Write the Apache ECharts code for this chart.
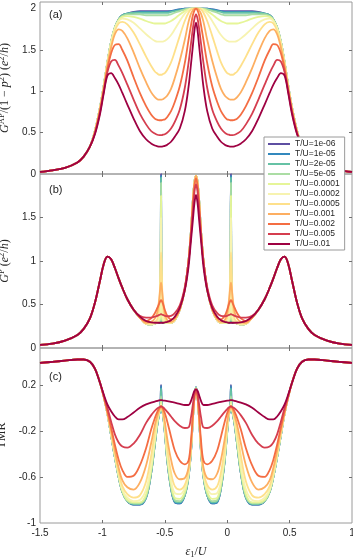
<!DOCTYPE html>
<html>
<head>
<meta charset="utf-8">
<script src="https://cdn.jsdelivr.net/npm/echarts@6/dist/echarts.min.js"></script>
<style>
  html, body { margin: 0; padding: 0; background: #fff; }
  #chart { width: 353px; height: 558px; }
</style>
</head>
<body>
<div id="chart"></div>
<script>
// x grid (eps1/U), dense around the resonances at -0.53, -0.25 and 0.03
const xs = [-1.5,-1.4,-1.3,-1.2,-1.15,-1.1,-1.06,-1.02,-0.99,-0.96,-0.93,-0.9,-0.87,-0.84,-0.8,-0.75,-0.7,-0.65,-0.61,-0.58,-0.56,-0.545,-0.536,-0.53,-0.524,-0.515,-0.5,-0.48,-0.45,-0.42,-0.38,-0.34,-0.31,-0.29,-0.275,-0.262,-0.25,
  -0.238,-0.225,-0.21,-0.19,-0.16,-0.12,-0.08,-0.05,-0.02,0,0.015,0.024,0.03,0.036,0.045,0.06,0.08,0.11,0.15,0.2,0.25,0.3,0.34,0.37,0.4,0.43,0.46,0.49,0.52,0.56,0.6,0.65,0.7,0.8,0.9,1.0];

const names = ['T/U=1e-06','T/U=1e-05','T/U=2e-05','T/U=5e-05','T/U=0.0001','T/U=0.0002','T/U=0.0005','T/U=0.001','T/U=0.002','T/U=0.005','T/U=0.01'];
const lineColors = ['#5e4fa2','#3288bd','#66c2a5','#abdda4','#e6f598','#f7f3b0','#fee08b','#fdae61','#f46d43','#d53e4f','#9e0142'];

const xTicks = [-1, -0.5, 0, 0.5];
const xTickLabels = [-1.5, -1, -0.5, 0, 0.5, 1];
const gTicks = [0.5, 1, 1.5];
const gapLabels = [0, 0.5, 1, 1.5, 2];
const gpLabels = [0, 0.5, 1, 1.5];
const tmrTicks = [-0.6, -0.2, 0.2];
const tmrLabels = [-1, -0.6, -0.2, 0.2];

// panel (a): G^AP/(1-p^2)
const gAP1e6 = [0.025,0.045,0.075,0.14,0.21,0.33,0.52,0.80,1.06,1.35,1.60,1.77,1.87,1.92,1.94,1.96,1.97,1.97,1.97,1.97,1.97,1.97,1.97,1.97,1.97,1.97,1.97,1.97,1.97,1.98,1.99,2.0,2.0,2.0,2.0,2.0,2.0,
  2.0,2.0,2.0,2.0,2.0,1.99,1.98,1.97,1.97,1.97,1.97,1.97,1.97,1.97,1.97,1.97,1.97,1.97,1.97,1.97,1.96,1.94,1.92,1.87,1.77,1.60,1.35,1.06,0.80,0.52,0.33,0.21,0.14,0.075,0.045,0.025];
const gAP1e5 = [0.025,0.045,0.075,0.14,0.21,0.33,0.52,0.80,1.06,1.35,1.60,1.77,1.87,1.92,1.94,1.95,1.96,1.96,1.96,1.96,1.96,1.96,1.96,1.96,1.96,1.96,1.96,1.96,1.97,1.98,1.99,2.0,2.0,2.0,2.0,2.0,2.0,
  2.0,2.0,2.0,2.0,2.0,1.99,1.98,1.97,1.96,1.96,1.96,1.96,1.96,1.96,1.96,1.96,1.96,1.96,1.96,1.96,1.95,1.94,1.92,1.87,1.77,1.60,1.35,1.06,0.80,0.52,0.33,0.21,0.14,0.075,0.045,0.025];
const gAP2e5 = [0.025,0.045,0.075,0.14,0.21,0.33,0.52,0.80,1.06,1.35,1.60,1.77,1.87,1.92,1.94,1.95,1.95,1.95,1.95,1.95,1.95,1.95,1.95,1.95,1.95,1.95,1.95,1.95,1.96,1.97,1.98,1.99,2.0,2.0,2.0,2.0,2.0,
  2.0,2.0,2.0,2.0,1.99,1.98,1.97,1.96,1.95,1.95,1.95,1.95,1.95,1.95,1.95,1.95,1.95,1.95,1.95,1.95,1.95,1.94,1.92,1.87,1.77,1.60,1.35,1.06,0.80,0.52,0.33,0.21,0.14,0.075,0.045,0.025];
const gAP5e5 = [0.025,0.045,0.075,0.14,0.21,0.33,0.52,0.80,1.06,1.35,1.60,1.77,1.87,1.91,1.93,1.93,1.93,1.92,1.92,1.92,1.92,1.92,1.92,1.92,1.92,1.92,1.92,1.92,1.93,1.95,1.97,1.99,2.0,2.0,2.0,2.0,2.0,
  2.0,2.0,2.0,2.0,1.99,1.97,1.95,1.93,1.92,1.92,1.92,1.92,1.92,1.92,1.92,1.92,1.92,1.92,1.92,1.93,1.93,1.93,1.91,1.87,1.77,1.60,1.35,1.06,0.80,0.52,0.33,0.21,0.14,0.075,0.045,0.025];
const gAP1e4 = [0.025,0.045,0.075,0.14,0.21,0.33,0.52,0.80,1.06,1.35,1.60,1.77,1.86,1.90,1.91,1.90,1.88,1.85,1.83,1.82,1.82,1.82,1.82,1.82,1.82,1.82,1.82,1.83,1.85,1.88,1.93,1.97,1.99,2.0,2.0,2.0,2.0,
  2.0,2.0,2.0,1.99,1.97,1.93,1.88,1.85,1.83,1.82,1.82,1.82,1.82,1.82,1.82,1.82,1.82,1.83,1.85,1.88,1.90,1.91,1.90,1.86,1.77,1.60,1.35,1.06,0.80,0.52,0.33,0.21,0.14,0.075,0.045,0.025];
const gAP2e4 = [0.025,0.045,0.075,0.14,0.21,0.33,0.52,0.80,1.06,1.35,1.59,1.76,1.85,1.88,1.87,1.83,1.76,1.69,1.64,1.61,1.60,1.60,1.60,1.60,1.60,1.60,1.61,1.63,1.68,1.75,1.85,1.94,1.98,2.0,2.0,2.0,2.0,
  2.0,2.0,2.0,1.98,1.94,1.85,1.75,1.68,1.63,1.61,1.60,1.60,1.60,1.60,1.60,1.60,1.61,1.64,1.69,1.76,1.83,1.87,1.88,1.85,1.76,1.59,1.35,1.06,0.80,0.52,0.33,0.21,0.14,0.075,0.045,0.025];
const gAP5e4 = [0.025,0.045,0.075,0.14,0.21,0.33,0.52,0.79,1.05,1.33,1.56,1.73,1.82,1.84,1.81,1.71,1.57,1.42,1.31,1.24,1.215,1.20,1.20,1.20,1.20,1.21,1.22,1.26,1.35,1.48,1.67,1.85,1.95,1.99,2.0,2.0,2.0,
  2.0,2.0,1.99,1.95,1.85,1.67,1.48,1.35,1.26,1.22,1.21,1.20,1.20,1.20,1.20,1.215,1.24,1.31,1.42,1.57,1.71,1.81,1.84,1.82,1.73,1.56,1.33,1.05,0.79,0.52,0.33,0.21,0.14,0.075,0.045,0.025];
const gAP1e3 = [0.025,0.045,0.075,0.14,0.21,0.33,0.51,0.78,1.03,1.31,1.53,1.69,1.75,1.73,1.64,1.47,1.28,1.11,0.99,0.93,0.905,0.90,0.90,0.90,0.90,0.905,0.92,0.95,1.03,1.16,1.37,1.62,1.84,1.94,1.98,2.0,2.0,
  2.0,1.98,1.94,1.84,1.62,1.37,1.16,1.03,0.95,0.92,0.905,0.90,0.90,0.90,0.90,0.905,0.93,0.99,1.11,1.28,1.47,1.64,1.73,1.75,1.69,1.53,1.31,1.03,0.78,0.51,0.33,0.21,0.14,0.075,0.045,0.025];
const gAP2e3 = [0.025,0.045,0.075,0.14,0.21,0.33,0.50,0.76,1.01,1.27,1.46,1.56,1.57,1.50,1.37,1.17,0.98,0.82,0.72,0.67,0.655,0.65,0.65,0.65,0.65,0.655,0.66,0.69,0.76,0.87,1.06,1.34,1.62,1.80,1.92,1.98,2.0,
  1.98,1.92,1.80,1.62,1.34,1.06,0.87,0.76,0.69,0.66,0.655,0.65,0.65,0.65,0.65,0.655,0.67,0.72,0.82,0.98,1.17,1.37,1.50,1.57,1.56,1.46,1.27,1.01,0.76,0.50,0.33,0.21,0.14,0.075,0.045,0.025];
const gAP5e3 = [0.025,0.045,0.075,0.14,0.21,0.33,0.49,0.74,0.99,1.23,1.36,1.38,1.31,1.22,1.08,0.90,0.73,0.60,0.52,0.49,0.475,0.47,0.47,0.47,0.47,0.475,0.48,0.50,0.55,0.63,0.78,1.04,1.34,1.58,1.76,1.88,1.93,
  1.88,1.76,1.58,1.34,1.04,0.78,0.63,0.55,0.50,0.48,0.475,0.47,0.47,0.47,0.47,0.475,0.49,0.52,0.60,0.73,0.90,1.08,1.22,1.31,1.38,1.36,1.23,0.99,0.74,0.49,0.33,0.21,0.14,0.075,0.045,0.025];
const gAP1e2 = [0.025,0.045,0.075,0.14,0.21,0.33,0.48,0.72,0.97,1.19,1.22,1.16,1.08,0.98,0.84,0.67,0.52,0.42,0.37,0.345,0.335,0.33,0.33,0.33,0.33,0.335,0.34,0.355,0.39,0.45,0.55,0.76,1.05,1.33,1.55,1.74,1.83,
  1.74,1.55,1.33,1.05,0.76,0.55,0.45,0.39,0.355,0.34,0.335,0.33,0.33,0.33,0.33,0.335,0.345,0.37,0.42,0.52,0.67,0.84,0.98,1.08,1.16,1.22,1.19,0.97,0.72,0.48,0.33,0.21,0.14,0.075,0.045,0.025];

// panel (b): G^P
const gP1e6 = [0.035,0.05,0.085,0.15,0.22,0.34,0.52,0.77,0.96,1.05,1.02,0.92,0.80,0.69,0.56,0.44,0.35,0.28,0.27,0.28,0.29,0.29,0.30,2.0,0.30,0.29,0.29,0.29,0.29,0.32,0.44,0.67,1.0,1.35,1.70,1.91,1.98,
  1.91,1.70,1.35,1.0,0.67,0.44,0.32,0.29,0.29,0.29,0.29,0.30,2.0,0.30,0.29,0.29,0.28,0.27,0.28,0.35,0.44,0.56,0.69,0.80,0.92,1.02,1.05,0.96,0.77,0.52,0.34,0.22,0.15,0.085,0.05,0.035];
const gP1e5 = [0.035,0.05,0.085,0.15,0.22,0.34,0.52,0.77,0.96,1.05,1.02,0.92,0.80,0.69,0.56,0.44,0.35,0.28,0.27,0.28,0.29,0.29,0.30,1.98,0.30,0.29,0.29,0.29,0.29,0.32,0.44,0.67,1.0,1.35,1.70,1.91,1.98,
  1.91,1.70,1.35,1.0,0.67,0.44,0.32,0.29,0.29,0.29,0.29,0.30,1.98,0.30,0.29,0.29,0.28,0.27,0.28,0.35,0.44,0.56,0.69,0.80,0.92,1.02,1.05,0.96,0.77,0.52,0.34,0.22,0.15,0.085,0.05,0.035];
const gP2e5 = [0.035,0.05,0.085,0.15,0.22,0.34,0.52,0.77,0.96,1.05,1.02,0.92,0.80,0.69,0.56,0.44,0.35,0.28,0.27,0.28,0.29,0.30,0.31,1.96,0.31,0.30,0.29,0.29,0.29,0.32,0.44,0.67,1.0,1.35,1.70,1.91,1.98,
  1.91,1.70,1.35,1.0,0.67,0.44,0.32,0.29,0.29,0.29,0.30,0.31,1.96,0.31,0.30,0.29,0.28,0.27,0.28,0.35,0.44,0.56,0.69,0.80,0.92,1.02,1.05,0.96,0.77,0.52,0.34,0.22,0.15,0.085,0.05,0.035];
const gP5e5 = [0.035,0.05,0.085,0.15,0.22,0.34,0.52,0.77,0.96,1.05,1.02,0.92,0.80,0.69,0.56,0.44,0.35,0.28,0.27,0.28,0.29,0.30,0.33,1.90,0.33,0.30,0.29,0.29,0.29,0.32,0.44,0.67,1.0,1.35,1.70,1.91,1.98,
  1.91,1.70,1.35,1.0,0.67,0.44,0.32,0.29,0.29,0.29,0.30,0.33,1.90,0.33,0.30,0.29,0.28,0.27,0.28,0.35,0.44,0.56,0.69,0.80,0.92,1.02,1.05,0.96,0.77,0.52,0.34,0.22,0.15,0.085,0.05,0.035];
const gP1e4 = [0.035,0.05,0.085,0.15,0.22,0.34,0.52,0.77,0.96,1.05,1.02,0.92,0.80,0.69,0.56,0.44,0.35,0.28,0.27,0.28,0.29,0.31,0.38,1.75,0.38,0.31,0.29,0.29,0.29,0.32,0.44,0.67,1.0,1.35,1.70,1.91,1.98,
  1.91,1.70,1.35,1.0,0.67,0.44,0.32,0.29,0.29,0.29,0.31,0.38,1.75,0.38,0.31,0.29,0.28,0.27,0.28,0.35,0.44,0.56,0.69,0.80,0.92,1.02,1.05,0.96,0.77,0.52,0.34,0.22,0.15,0.085,0.05,0.035];
const gP2e4 = [0.035,0.05,0.085,0.15,0.22,0.34,0.52,0.77,0.96,1.05,1.02,0.92,0.80,0.69,0.56,0.44,0.35,0.28,0.27,0.28,0.30,0.34,0.55,1.50,0.55,0.34,0.30,0.29,0.29,0.32,0.44,0.67,1.0,1.35,1.70,1.91,1.98,
  1.91,1.70,1.35,1.0,0.67,0.44,0.32,0.29,0.29,0.30,0.34,0.55,1.50,0.55,0.34,0.30,0.28,0.27,0.28,0.35,0.44,0.56,0.69,0.80,0.92,1.02,1.05,0.96,0.77,0.52,0.34,0.22,0.15,0.085,0.05,0.035];
const gP5e4 = [0.035,0.05,0.085,0.15,0.22,0.34,0.52,0.77,0.96,1.05,1.02,0.92,0.80,0.69,0.56,0.44,0.35,0.28,0.28,0.30,0.33,0.48,0.85,1.10,0.85,0.48,0.34,0.30,0.29,0.32,0.44,0.67,1.0,1.35,1.70,1.91,1.98,
  1.91,1.70,1.35,1.0,0.67,0.44,0.32,0.29,0.30,0.34,0.48,0.85,1.10,0.85,0.48,0.33,0.30,0.28,0.28,0.35,0.44,0.56,0.69,0.80,0.92,1.02,1.05,0.96,0.77,0.52,0.34,0.22,0.15,0.085,0.05,0.035];
const gP1e3 = [0.035,0.05,0.085,0.15,0.22,0.34,0.52,0.77,0.96,1.05,1.02,0.92,0.80,0.69,0.56,0.44,0.35,0.29,0.30,0.34,0.41,0.56,0.69,0.75,0.69,0.56,0.40,0.32,0.30,0.33,0.44,0.67,1.0,1.34,1.68,1.90,1.98,
  1.90,1.68,1.34,1.0,0.67,0.44,0.33,0.30,0.32,0.40,0.56,0.69,0.75,0.69,0.56,0.41,0.34,0.30,0.29,0.35,0.44,0.56,0.69,0.80,0.92,1.02,1.05,0.96,0.77,0.52,0.34,0.22,0.15,0.085,0.05,0.035];
const gP2e3 = [0.035,0.05,0.085,0.15,0.22,0.34,0.52,0.77,0.96,1.05,1.02,0.92,0.80,0.69,0.56,0.44,0.35,0.31,0.34,0.40,0.46,0.51,0.54,0.55,0.54,0.51,0.44,0.37,0.33,0.35,0.45,0.68,1.0,1.33,1.65,1.87,1.95,
  1.87,1.65,1.33,1.0,0.68,0.45,0.35,0.33,0.37,0.44,0.51,0.54,0.55,0.54,0.51,0.46,0.40,0.34,0.31,0.35,0.44,0.56,0.69,0.80,0.92,1.02,1.05,0.96,0.77,0.52,0.34,0.22,0.15,0.085,0.05,0.035];
const gP5e3 = [0.035,0.05,0.085,0.15,0.22,0.34,0.52,0.77,0.96,1.05,1.02,0.92,0.80,0.69,0.56,0.44,0.37,0.35,0.35,0.36,0.37,0.38,0.385,0.39,0.385,0.38,0.37,0.365,0.37,0.40,0.49,0.70,0.99,1.30,1.58,1.80,1.88,
  1.80,1.58,1.30,0.99,0.70,0.49,0.40,0.37,0.365,0.37,0.38,0.385,0.39,0.385,0.38,0.37,0.36,0.35,0.35,0.37,0.44,0.56,0.69,0.80,0.92,1.02,1.05,0.96,0.77,0.52,0.34,0.22,0.15,0.085,0.05,0.035];
const gP1e2 = [0.035,0.05,0.085,0.15,0.22,0.34,0.52,0.77,0.96,1.05,1.02,0.92,0.80,0.69,0.56,0.44,0.36,0.31,0.295,0.29,0.29,0.29,0.29,0.29,0.29,0.29,0.295,0.30,0.32,0.36,0.46,0.66,0.93,1.24,1.47,1.67,1.76,
  1.67,1.47,1.24,0.93,0.66,0.46,0.36,0.32,0.30,0.295,0.29,0.29,0.29,0.29,0.29,0.29,0.29,0.295,0.31,0.36,0.44,0.56,0.69,0.80,0.92,1.02,1.05,0.96,0.77,0.52,0.34,0.22,0.15,0.085,0.05,0.035];

// panel (c): TMR
const tmr1e6 = [0.39,0.40,0.41,0.42,0.42,0.40,0.34,0.22,0.10,-0.05,-0.24,-0.43,-0.60,-0.73,-0.81,-0.84,-0.84,-0.78,-0.57,-0.32,-0.15,-0.055,-0.015,0.20,-0.015,-0.055,-0.21,-0.46,-0.70,-0.82,-0.83,-0.76,-0.60,-0.38,-0.10,0.10,0.18,
  0.10,-0.10,-0.38,-0.60,-0.76,-0.83,-0.82,-0.70,-0.46,-0.21,-0.055,-0.015,0.20,-0.015,-0.055,-0.15,-0.32,-0.57,-0.78,-0.84,-0.84,-0.81,-0.73,-0.60,-0.43,-0.24,-0.05,0.10,0.22,0.34,0.40,0.42,0.42,0.41,0.40,0.39];
const tmr1e5 = [0.39,0.40,0.41,0.42,0.42,0.40,0.34,0.22,0.10,-0.05,-0.24,-0.43,-0.60,-0.73,-0.81,-0.84,-0.84,-0.78,-0.57,-0.32,-0.15,-0.055,-0.015,0.19,-0.015,-0.055,-0.21,-0.46,-0.70,-0.82,-0.83,-0.76,-0.60,-0.38,-0.10,0.10,0.18,
  0.10,-0.10,-0.38,-0.60,-0.76,-0.83,-0.82,-0.70,-0.46,-0.21,-0.055,-0.015,0.19,-0.015,-0.055,-0.15,-0.32,-0.57,-0.78,-0.84,-0.84,-0.81,-0.73,-0.60,-0.43,-0.24,-0.05,0.10,0.22,0.34,0.40,0.42,0.42,0.41,0.40,0.39];
const tmr2e5 = [0.39,0.40,0.41,0.42,0.42,0.40,0.34,0.22,0.10,-0.05,-0.24,-0.43,-0.60,-0.73,-0.81,-0.835,-0.835,-0.78,-0.57,-0.32,-0.15,-0.055,-0.015,0.17,-0.015,-0.055,-0.21,-0.46,-0.70,-0.81,-0.82,-0.76,-0.60,-0.38,-0.10,0.10,0.18,
  0.10,-0.10,-0.38,-0.60,-0.76,-0.82,-0.81,-0.70,-0.46,-0.21,-0.055,-0.015,0.17,-0.015,-0.055,-0.15,-0.32,-0.57,-0.78,-0.835,-0.835,-0.81,-0.73,-0.60,-0.43,-0.24,-0.05,0.10,0.22,0.34,0.40,0.42,0.42,0.41,0.40,0.39];
const tmr5e5 = [0.39,0.40,0.41,0.42,0.42,0.40,0.34,0.22,0.10,-0.05,-0.24,-0.43,-0.60,-0.73,-0.81,-0.83,-0.83,-0.77,-0.56,-0.31,-0.14,-0.05,-0.01,0.10,-0.01,-0.05,-0.20,-0.45,-0.69,-0.80,-0.81,-0.75,-0.59,-0.37,-0.10,0.10,0.17,
  0.10,-0.10,-0.37,-0.59,-0.75,-0.81,-0.80,-0.69,-0.45,-0.20,-0.05,-0.01,0.10,-0.01,-0.05,-0.14,-0.31,-0.56,-0.77,-0.83,-0.83,-0.81,-0.73,-0.60,-0.43,-0.24,-0.05,0.10,0.22,0.34,0.40,0.42,0.42,0.41,0.40,0.39];
const tmr1e4 = [0.39,0.40,0.41,0.42,0.42,0.40,0.34,0.22,0.10,-0.05,-0.23,-0.42,-0.59,-0.72,-0.80,-0.82,-0.82,-0.75,-0.54,-0.29,-0.13,-0.04,-0.005,0.05,-0.005,-0.04,-0.19,-0.43,-0.66,-0.78,-0.79,-0.73,-0.58,-0.36,-0.09,0.10,0.17,
  0.10,-0.09,-0.36,-0.58,-0.73,-0.79,-0.78,-0.66,-0.43,-0.19,-0.04,-0.005,0.05,-0.005,-0.04,-0.13,-0.29,-0.54,-0.75,-0.82,-0.82,-0.80,-0.72,-0.59,-0.42,-0.23,-0.05,0.10,0.22,0.34,0.40,0.42,0.42,0.41,0.40,0.39];
const tmr2e4 = [0.39,0.40,0.41,0.42,0.42,0.40,0.34,0.22,0.10,-0.05,-0.23,-0.41,-0.58,-0.71,-0.78,-0.81,-0.80,-0.71,-0.50,-0.26,-0.11,-0.035,0.0,0.03,0.0,-0.035,-0.17,-0.40,-0.63,-0.74,-0.75,-0.70,-0.57,-0.35,-0.09,0.10,0.17,
  0.10,-0.09,-0.35,-0.57,-0.70,-0.75,-0.74,-0.63,-0.40,-0.17,-0.035,0.0,0.03,0.0,-0.035,-0.11,-0.26,-0.50,-0.71,-0.80,-0.81,-0.78,-0.71,-0.58,-0.41,-0.23,-0.05,0.10,0.22,0.34,0.40,0.42,0.42,0.41,0.40,0.39];
const tmr5e4 = [0.39,0.40,0.41,0.42,0.42,0.40,0.34,0.22,0.10,-0.05,-0.22,-0.40,-0.56,-0.68,-0.75,-0.78,-0.76,-0.64,-0.42,-0.21,-0.09,-0.03,0.0,0.02,0.0,-0.03,-0.15,-0.35,-0.56,-0.68,-0.71,-0.67,-0.55,-0.34,-0.09,0.10,0.17,
  0.10,-0.09,-0.34,-0.55,-0.67,-0.71,-0.68,-0.56,-0.35,-0.15,-0.03,0.0,0.02,0.0,-0.03,-0.09,-0.21,-0.42,-0.64,-0.76,-0.78,-0.75,-0.68,-0.56,-0.40,-0.22,-0.05,0.10,0.22,0.34,0.40,0.42,0.42,0.41,0.40,0.39];
const tmr1e3 = [0.39,0.40,0.41,0.42,0.42,0.40,0.34,0.22,0.10,-0.04,-0.20,-0.37,-0.52,-0.63,-0.69,-0.71,-0.65,-0.50,-0.31,-0.15,-0.07,-0.02,0.0,0.005,0.0,-0.03,-0.12,-0.27,-0.45,-0.57,-0.62,-0.61,-0.52,-0.33,-0.09,0.09,0.16,
  0.09,-0.09,-0.33,-0.52,-0.61,-0.62,-0.57,-0.45,-0.27,-0.12,-0.03,0.0,0.005,0.0,-0.02,-0.07,-0.15,-0.31,-0.50,-0.65,-0.71,-0.69,-0.63,-0.52,-0.37,-0.20,-0.04,0.10,0.22,0.34,0.40,0.42,0.42,0.41,0.40,0.39];
const tmr2e3 = [0.39,0.40,0.41,0.42,0.42,0.40,0.34,0.22,0.10,-0.03,-0.17,-0.32,-0.45,-0.54,-0.60,-0.59,-0.50,-0.35,-0.19,-0.09,-0.035,-0.005,0.01,0.015,0.01,-0.005,-0.045,-0.12,-0.25,-0.37,-0.46,-0.49,-0.46,-0.28,-0.06,0.10,0.16,
  0.10,-0.06,-0.28,-0.46,-0.49,-0.46,-0.37,-0.25,-0.12,-0.045,-0.005,0.01,0.015,0.01,-0.005,-0.035,-0.09,-0.19,-0.35,-0.50,-0.59,-0.60,-0.54,-0.45,-0.32,-0.17,-0.03,0.10,0.22,0.34,0.40,0.42,0.42,0.41,0.40,0.39];
const tmr5e3 = [0.39,0.40,0.41,0.42,0.42,0.40,0.34,0.22,0.11,0.0,-0.12,-0.23,-0.30,-0.335,-0.345,-0.31,-0.235,-0.13,-0.065,-0.025,-0.005,0.005,0.01,0.012,0.01,0.005,-0.01,-0.035,-0.075,-0.115,-0.155,-0.175,-0.17,-0.08,0.03,0.12,0.16,
  0.12,0.03,-0.08,-0.17,-0.175,-0.155,-0.115,-0.075,-0.035,-0.01,0.005,0.01,0.012,0.01,0.005,-0.005,-0.025,-0.065,-0.13,-0.235,-0.31,-0.345,-0.335,-0.30,-0.23,-0.12,0.0,0.11,0.22,0.34,0.40,0.42,0.42,0.41,0.40,0.39];
const tmr1e2 = [0.39,0.40,0.41,0.42,0.42,0.40,0.34,0.22,0.12,0.03,-0.03,-0.075,-0.10,-0.10,-0.08,-0.04,0.0,0.03,0.045,0.055,0.06,0.065,0.067,0.068,0.067,0.065,0.062,0.058,0.052,0.045,0.035,0.025,0.025,0.06,0.11,0.15,0.16,
  0.15,0.11,0.06,0.025,0.025,0.035,0.045,0.052,0.058,0.062,0.065,0.067,0.068,0.067,0.065,0.06,0.055,0.045,0.03,0.0,-0.04,-0.08,-0.10,-0.10,-0.075,-0.03,0.03,0.12,0.22,0.34,0.40,0.42,0.42,0.41,0.40,0.39];

const gAPSets = [gAP1e6, gAP1e5, gAP2e5, gAP5e5, gAP1e4, gAP2e4, gAP5e4, gAP1e3, gAP2e3, gAP5e3, gAP1e2];
const gPSets = [gP1e6, gP1e5, gP2e5, gP5e5, gP1e4, gP2e4, gP5e4, gP1e3, gP2e3, gP5e3, gP1e2];
const tmrSets = [tmr1e6, tmr1e5, tmr2e5, tmr5e5, tmr1e4, tmr2e4, tmr5e4, tmr1e3, tmr2e3, tmr5e3, tmr1e2];

const textColor = '#262626';
const tickColor = '#707070';
const sans = 'Liberation Sans';
const serif = 'Liberation Serif';
const rich = {
  r: { fontFamily: serif, fontSize: 12, color: textColor },
  i: { fontFamily: serif, fontStyle: 'italic', fontSize: 12, color: textColor },
  s: { fontFamily: serif, fontSize: 8.5, color: textColor, padding: [0, 0, 7, 0] },
  d: { fontFamily: serif, fontSize: 8.5, color: textColor, padding: [6, 0, 0, 0] }
};

function xAxisFor(gridIndex, position, withLabels) {
  return {
    type: 'value', gridIndex, position, min: -1.5, max: 1,
    axisLine: { show: false, onZero: false },
    splitLine: { show: false },
    axisTick: { show: true, inside: true, length: 3, customValues: xTicks, lineStyle: { color: tickColor } },
    axisLabel: {
      show: withLabels, customValues: xTickLabels, margin: 5, fontSize: 10,
      color: textColor, fontFamily: sans, showMinLabel: true, showMaxLabel: true
    }
  };
}

function yAxisFor(gridIndex, position, min, max, ticks, labels, withLabels, name, nameGap) {
  const ax = {
    type: 'value', gridIndex, position, min, max,
    axisLine: { show: false, onZero: false },
    splitLine: { show: false },
    axisTick: { show: true, inside: true, length: 3, customValues: ticks, lineStyle: { color: tickColor } },
    axisLabel: {
      show: withLabels, customValues: labels, margin: 4, fontSize: 10,
      color: textColor, fontFamily: sans, showMinLabel: true, showMaxLabel: true
    }
  };
  if (name) {
    ax.name = name;
    ax.nameLocation = 'middle';
    ax.nameRotate = 90;
    ax.nameGap = nameGap;
    ax.nameTextStyle = { rich, fontFamily: serif, fontSize: 12, color: textColor };
  }
  return ax;
}

const gridBase = {
  left: 40, width: 312, show: true, borderColor: '#9a9a9a', borderWidth: 1,
  backgroundColor: 'transparent', containLabel: false, outerBoundsMode: 'none'
};

const series = [];
[gAPSets, gPSets, tmrSets].forEach((sets, p) => {
  sets.forEach((ys, k) => {
    series.push({
      type: 'line',
      name: names[k],
      xAxisIndex: 2 * p,
      yAxisIndex: 2 * p,
      data: xs.map((x, i) => [x, ys[i]]),
      symbol: 'none',
      showSymbol: false,
      smooth: 0.35,
      clip: false,
      lineStyle: { color: lineColors[k], width: 1.8 },
      itemStyle: { color: lineColors[k] },
      emphasis: { disabled: true }
    });
  });
});

const xBottom = xAxisFor(2, 'bottom', true);
xBottom.name = '{i|ε}{d|1}{r|/}{i|U}';
xBottom.nameLocation = 'middle';
xBottom.nameGap = 21;
xBottom.nameTextStyle = { rich, fontFamily: serif, fontSize: 12, color: textColor };

const chart = echarts.init(document.getElementById('chart'), null, { renderer: 'canvas' });
chart.setOption({
  animation: false,
  backgroundColor: '#fff',
  grid: [
    Object.assign({ top: 2, height: 172 }, gridBase),
    Object.assign({ top: 174, height: 174 }, gridBase),
    Object.assign({ top: 348, height: 175 }, gridBase)
  ],
  xAxis: [
    xAxisFor(0, 'bottom', false), xAxisFor(0, 'top', false),
    xAxisFor(1, 'bottom', false), xAxisFor(1, 'top', false),
    xBottom, xAxisFor(2, 'top', false)
  ],
  yAxis: [
    yAxisFor(0, 'left', 0, 2.08, gTicks, gapLabels, true,
      '{i|G}{s|AP}{r|/(1 − }{i|p}{s|2}{r|) (}{i|e}{s|2}{r|/}{i|h}{r|)}', 17),
    yAxisFor(0, 'right', 0, 2.08, gTicks, gapLabels, false),
    yAxisFor(1, 'left', 0, 2, gTicks, gpLabels, true,
      '{i|G}{s|P}{r| (}{i|e}{s|2}{r|/}{i|h}{r|)}', 17),
    yAxisFor(1, 'right', 0, 2, gTicks, gpLabels, false),
    yAxisFor(2, 'left', -1, 0.52, tmrTicks, tmrLabels, true, '{r|TMR}', 31),
    yAxisFor(2, 'right', -1, 0.52, tmrTicks, tmrLabels, false)
  ],
  legend: {
    data: names,
    orient: 'vertical',
    left: 264,
    top: 137,
    itemWidth: 22,
    itemHeight: 2,
    itemGap: 0,
    icon: 'rect',
    padding: [2, 5, 1, 4],
    backgroundColor: '#fff',
    borderColor: '#9a9a9a',
    borderWidth: 1,
    borderRadius: 0,
    selectedMode: false,
    textStyle: { fontSize: 8.5, lineHeight: 10, color: textColor, fontFamily: sans }
  },
  graphic: [
    { type: 'text', left: 49, top: 9, style: { text: '(a)', font: '11px "Liberation Sans"', fill: textColor } },
    { type: 'text', left: 49, top: 184, style: { text: '(b)', font: '11px "Liberation Sans"', fill: textColor } },
    { type: 'text', left: 49, top: 371, style: { text: '(c)', font: '11px "Liberation Sans"', fill: textColor } }
  ],
  series
});
</script>
</body>
</html>
